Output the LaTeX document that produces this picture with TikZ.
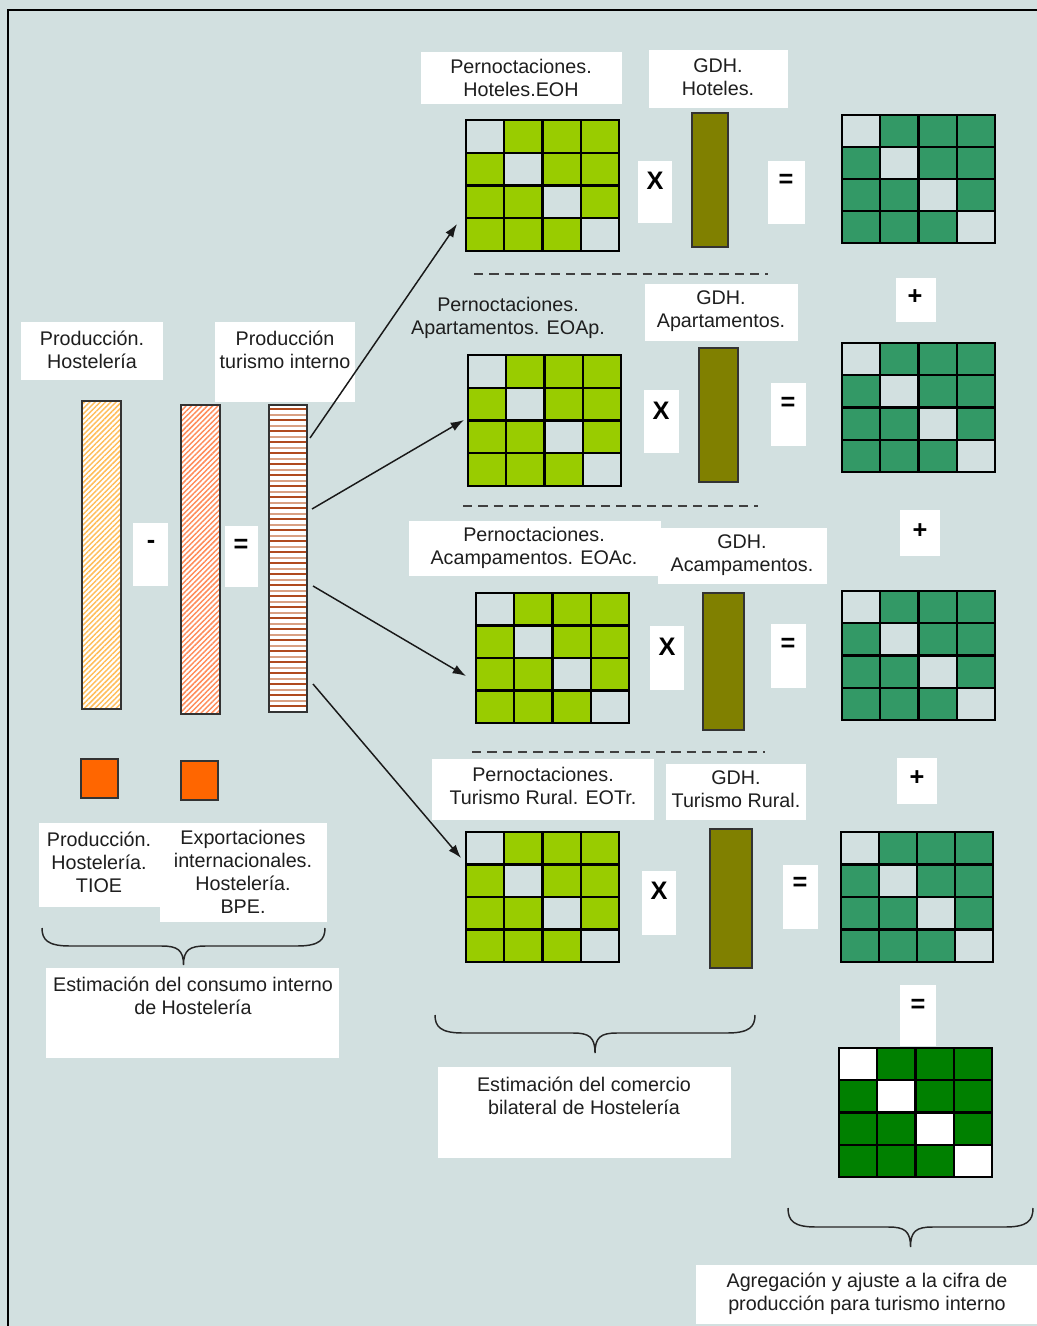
\documentclass[tikz,border=0pt]{standalone}
\usepackage{fontspec}
\setmainfont{Liberation Sans}
\usetikzlibrary{fit,patterns.meta,arrows.meta}
\definecolor{bgc}{RGB}{210,224,224}
\definecolor{lgreen}{RGB}{153,204,0}
\definecolor{mgreen}{RGB}{51,153,102}
\definecolor{dgreen}{RGB}{0,128,0}
\definecolor{olivec}{RGB}{128,128,0}
\definecolor{orangec}{RGB}{255,102,0}
\definecolor{hatchA}{RGB}{255,190,90}
\definecolor{hatchB}{RGB}{255,140,90}
\definecolor{stripeDc}{RGB}{176,74,30}
\definecolor{stripeLc}{RGB}{217,160,130}
\definecolor{txt}{RGB}{30,30,30}
\tikzset{
  wb/.style={fill=white,inner sep=0pt,draw=none},
  lbl/.style={align=center,inner sep=0pt,text=txt,font=\fontsize{14.8}{17.4}\selectfont},
  sym/.style={inner sep=0pt,text=black,font=\fontsize{19}{21}\selectfont\bfseries},
  barline/.style={draw=black!80,line width=1.5pt},
  gridl/.style={draw=black,line width=1.6pt},
  conn/.style={draw=black!90,line width=1.1pt,-{Latex[length=10pt,width=7pt]}},
  dashl/.style={draw=black!75,line width=1.2pt,dash pattern=on 7pt off 4.5pt},
  bracel/.style={draw=black!85,line width=1.1pt},
  stripeD/.style={draw=stripeDc,line width=1.5pt},
  stripeL/.style={draw=stripeLc,line width=1.5pt}
}
\newcommand\wbox[5]{\node[wb,fit={(#2,#3) (#4,#5)}] (#1) {};}
\newcommand\gridmat[7]{%
  \pgfmathsetmacro\gmw{(#4-#2)/4}\pgfmathsetmacro\gmh{(#5-#3)/4}%
  \fill[#6] (#2,#3) rectangle (#4,#5);
  \foreach \k in {0,...,3}{\fill[#7] ({#2+\k*\gmw},{#3+\k*\gmh}) rectangle ({#2+(\k+1)*\gmw},{#3+(\k+1)*\gmh});}
  \foreach \k in {1,2,3}{\draw[gridl] ({#2+\k*\gmw},#3) -- ({#2+\k*\gmw},#5); \draw[gridl] (#2,{#3+\k*\gmh}) -- (#4,{#3+\k*\gmh});}
  \node[fit={(#2,#3) (#4,#5)},inner sep=0pt,gridl,line width=2pt] (#1) {};
}
\newcommand\bracedraw[5]{% x1, x2, ytop, ymid, ybot
  \pgfmathsetmacro\bxc{(#1+#2)/2}%
  \draw[bracel] (#1,#3) .. controls (#1,{#4-6}) and ({#1+6},#4) .. ({#1+28},#4)
    -- ({\bxc-22},#4) .. controls ({\bxc-6},#4) and (\bxc,{#4+4}) .. (\bxc,#5)
    .. controls (\bxc,{#4+4}) and ({\bxc+6},#4) .. ({\bxc+22},#4)
    -- ({#2-28},#4) .. controls ({#2-6},#4) and (#2,{#4-6}) .. (#2,#3);
}
\begin{document}
\begin{tikzpicture}[x=0.75pt,y=-0.75pt]
\useasboundingbox (0,0) rectangle (1037,1326);
\fill[bgc] (0,0) rectangle (1037,1326);
\draw[black,line width=1.5pt] (8,1326) -- (8,10) -- (1037,10);

% ---------- left part ----------
\wbox{bProdH}{21}{322}{163}{380}
\node[lbl] (tProdH) at (92,349.5) {Producción.\\Hostelería};
\wbox{bProdTI}{215}{322}{355}{402}
\node[lbl] (tProdTI) at (285,349.5) {Producción\\turismo interno};

\node[fit={(82,401) (121,709)},inner sep=0pt,barline,preaction={fill=white},
  pattern={Lines[angle=45,distance=2.8pt,line width=1.1pt]},pattern color=hatchA] (bar1) {};
\node[fit={(181,405) (220,714)},inner sep=0pt,barline,preaction={fill=white},
  pattern={Lines[angle=45,distance=2.8pt,line width=1.1pt]},pattern color=hatchB] (bar2) {};
\node[fit={(269,405) (307,712)},inner sep=0pt,fill=white] (bar3) {};
\begin{scope}
  \clip (269,405) rectangle (307,712);
  \foreach \k in {0,...,28}{
    \draw[stripeD] (269,{409+11*\k}) -- (307,{409+11*\k});
    \draw[stripeL] (269,{414.5+11*\k}) -- (307,{414.5+11*\k});
  }
\end{scope}
\draw[barline] (bar3.north west) rectangle (bar3.south east);

\wbox{bMinus}{133}{523}{168}{586}
\node[sym] (sMinus) at (151,544) {-};
\wbox{bEqL}{225}{526}{258}{587}
\node[sym] (sEqL) at (241,546) {=};

\node[fit={(81,759) (118,798)},inner sep=0pt,fill=orangec,barline] (sq1) {};
\node[fit={(181,761) (218,800)},inner sep=0pt,fill=orangec,barline] (sq2) {};

\wbox{bTioe}{39}{823}{160}{907}
\node[lbl] (tTioe) at (99,862.5) {Producción.\\Hostelería.\\TIOE};
\wbox{bBpe}{160}{823}{327}{922}
\node[lbl] (tBpe) at (243,872) {Exportaciones\\internacionales.\\Hostelería.\\BPE.};

\bracedraw{42}{325}{928}{946}{965}
\wbox{bEst1}{46}{968}{339}{1058}
\node[lbl] (tEst1) at (193,995.5) {Estimación del consumo interno\\de Hostelería};

% ---------- row 1 ----------
\wbox{bEoh}{421}{52}{622}{104}
\node[lbl] (tEoh) at (521,78) {Pernoctaciones.\\Hoteles.EOH};
\wbox{bGdh1}{649}{50}{788}{108}
\node[lbl] (tGdh1) at (718,77.5) {GDH.\\Hoteles.};
\gridmat{m1}{466}{120}{619}{251}{lgreen}{bgc}
\wbox{bX1}{638}{161}{672}{223}
\node[sym] (sX1) at (655,181) {X};
\node[fit={(692,113) (728,247)},inner sep=0pt,fill=olivec,barline] (g1) {};
\wbox{bE1}{768}{161}{805}{224}
\node[sym] (sE1) at (786,181) {=};
\gridmat{r1}{842}{115}{995}{243}{mgreen}{bgc}
\draw[dashl] (474,274) -- (768,274);

% ---------- row 2 ----------
\node[lbl] (tEoap) at (508,318) {Pernoctaciones.\\Apartamentos. EOAp.};
\wbox{bGdh2}{645}{284}{798}{341}
\node[lbl] (tGdh2) at (721,311.5) {GDH.\\Apartamentos.};
\gridmat{m2}{468}{355}{621}{486}{lgreen}{bgc}
\wbox{bX2}{644}{390}{679}{453}
\node[sym] (sX2) at (661,411) {X};
\node[fit={(699,348) (738,482)},inner sep=0pt,fill=olivec,barline] (g2) {};
\wbox{bE2}{771}{383}{806}{446}
\node[sym] (sE2) at (788,404) {=};
\wbox{bP1}{896}{278}{936}{322}
\node[sym] (sP1) at (915,297) {+};
\gridmat{r2}{842}{343}{995}{472}{mgreen}{bgc}
\draw[dashl] (463,506) -- (758,506);

% ---------- row 3 ----------
\wbox{bEoac}{409}{521}{661}{576}
\node[lbl] (tEoac) at (534,548) {Pernoctaciones.\\Acampamentos. EOAc.};
\wbox{bGdh3}{658}{528}{827}{584}
\node[lbl] (tGdh3) at (742,555.5) {GDH.\\Acampamentos.};
\gridmat{m3}{476}{593}{629}{723}{lgreen}{bgc}
\wbox{bX3}{650}{626}{684}{690}
\node[sym] (sX3) at (667,647) {X};
\node[fit={(703,593) (744,730)},inner sep=0pt,fill=olivec,barline] (g3) {};
\wbox{bE3}{771}{624}{806}{688}
\node[sym] (sE3) at (788,645) {=};
\wbox{bP2}{900}{510}{940}{556}
\node[sym] (sP2) at (920,531) {+};
\gridmat{r3}{842}{591}{995}{720}{mgreen}{bgc}
\draw[dashl] (472,752) -- (765,752);

% ---------- row 4 ----------
\wbox{bEotr}{432}{759}{654}{820}
\node[lbl] (tEotr) at (543,786) {Pernoctaciones.\\Turismo Rural. EOTr.};
\wbox{bGdh4}{666}{764}{806}{820}
\node[lbl] (tGdh4) at (736,789.5) {GDH.\\Turismo Rural.};
\gridmat{m4}{466}{832}{619}{962}{lgreen}{bgc}
\wbox{bX4}{642}{871}{676}{935}
\node[sym] (sX4) at (659,891) {X};
\node[fit={(710,829) (752,968)},inner sep=0pt,fill=olivec,barline] (g4) {};
\wbox{bE4}{783}{865}{818}{929}
\node[sym] (sE4) at (800,884) {=};
\wbox{bP3}{897}{758}{937}{804}
\node[sym] (sP3) at (917,778) {+};
\gridmat{r4}{841}{832}{993}{962}{mgreen}{bgc}

\bracedraw{435}{755}{1015}{1033}{1053}
\wbox{bEst2}{438}{1067}{731}{1158}
\node[lbl] (tEst2) at (584,1095.5) {Estimación del comercio\\bilateral de Hostelería};

% ---------- final ----------
\wbox{bE5}{900}{985}{936}{1046}
\node[sym] (sE5) at (918,1006) {=};
\gridmat{mf}{839}{1048}{992}{1177}{dgreen}{white}
\bracedraw{788}{1033}{1208}{1227}{1247}
\wbox{bAgr}{696}{1265}{1037}{1324}
\node[lbl] (tAgr) at (867,1293.5) {Agregación y ajuste a la cifra de\\producción para turismo interno};

% ---------- connectors ----------
\coordinate (s1) at (310,438); \coordinate (e1) at (457,224);
\coordinate (s2) at (312,509); \coordinate (e2) at (464,420);
\coordinate (s3) at (313,586); \coordinate (e3) at (466,676);
\coordinate (s4) at (313,684); \coordinate (e4) at (461,858);
\draw[conn] (s1) -- (e1);
\draw[conn] (s2) -- (e2);
\draw[conn] (s3) -- (e3);
\draw[conn] (s4) -- (e4);
\end{tikzpicture}
\end{document}
